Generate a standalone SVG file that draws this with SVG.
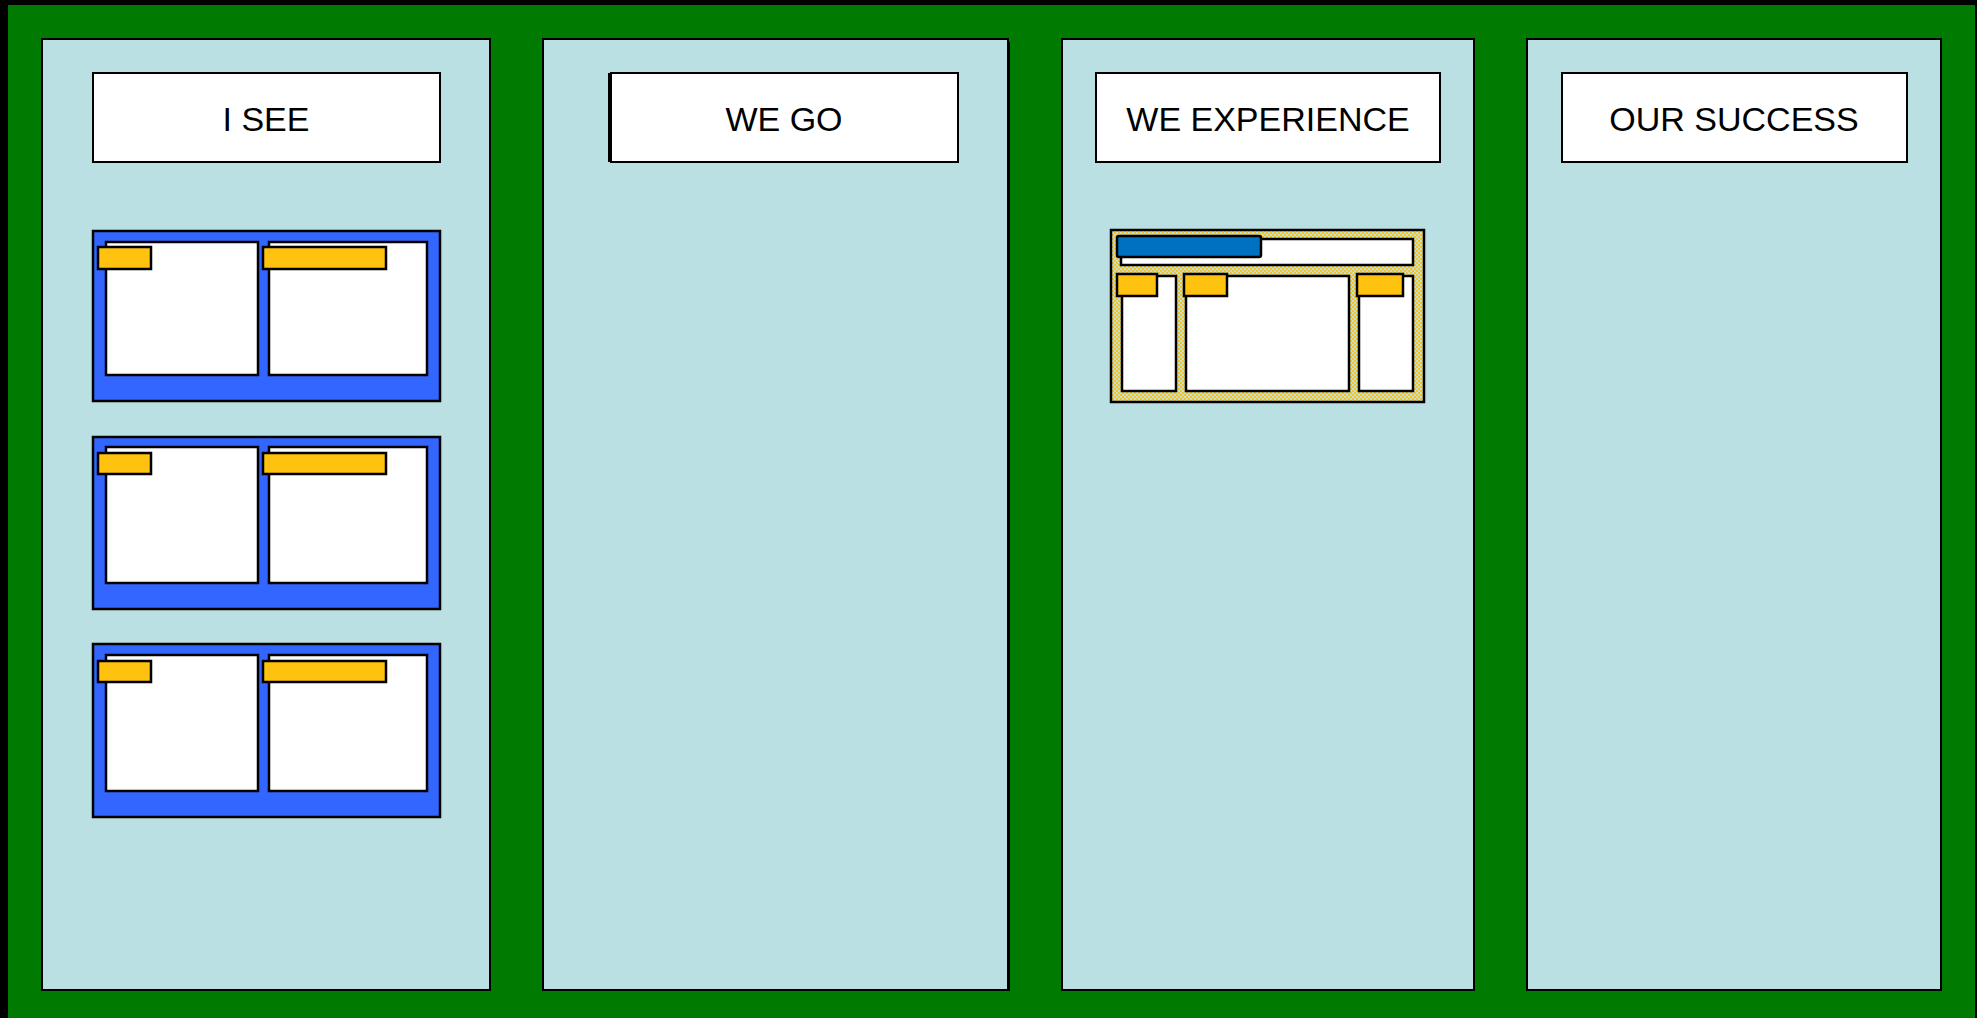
<svg xmlns="http://www.w3.org/2000/svg" width="1977" height="1018" viewBox="0 0 1977 1018">
<defs>
<style>
.panel{fill:#BBE0E3;stroke:#000;stroke-width:2}
.head{fill:#fff;stroke:#000;stroke-width:2}
.ht{font-family:"Liberation Sans",Arial,sans-serif;font-size:34px;fill:#000;text-anchor:middle}
.grp{fill:#3366FF;stroke:#000;stroke-width:2.5}
.card{fill:#fff;stroke:#000;stroke-width:2.5}
.tag{fill:#FFC20E;stroke:#000;stroke-width:2.5}
.btab{fill:#0070C0;stroke:#000;stroke-width:2.5}
</style>
<pattern id="chk" width="4" height="4" patternUnits="userSpaceOnUse">
<rect width="4" height="4" fill="#FFC20E"/>
<rect width="2" height="2" fill="#BBE0E3"/>
<rect x="2" y="2" width="2" height="2" fill="#BBE0E3"/>
</pattern>
</defs>
<rect x="0" y="0" width="1977" height="1018" fill="#000"/>
<rect x="8" y="5" width="1967" height="1013" fill="#007A00"/>

<g id="col1">
<rect class="panel" x="42" y="39" width="448" height="951"/>
<g id="col1-header"><rect class="head" x="93" y="73" width="347" height="89"/><text class="ht" x="266" y="131">I SEE</text></g>
<g id="see1">
<rect class="grp" x="93" y="231" width="347" height="170"/>
<rect class="card" x="106" y="242" width="152" height="133"/>
<rect class="card" x="269" y="242" width="158" height="133"/>
<rect class="tag" x="98" y="247" width="53" height="22"/>
<rect class="tag" x="263" y="247" width="123" height="22"/>
</g>
<g id="see2">
<rect class="grp" x="93" y="437" width="347" height="172"/>
<rect class="card" x="106" y="447" width="152" height="136"/>
<rect class="card" x="269" y="447" width="158" height="136"/>
<rect class="tag" x="98" y="453" width="53" height="21"/>
<rect class="tag" x="263" y="453" width="123" height="21"/>
</g>
<g id="see3">
<rect class="grp" x="93" y="644" width="347" height="173"/>
<rect class="card" x="106" y="655" width="152" height="136"/>
<rect class="card" x="269" y="655" width="158" height="136"/>
<rect class="tag" x="98" y="661" width="53" height="21"/>
<rect class="tag" x="263" y="661" width="123" height="21"/>
</g>
</g>

<g id="col2">
<rect x="546" y="42" width="464" height="949" fill="#000"/>
<rect class="panel" x="543" y="39" width="465" height="951"/>
<g id="col2-header"><rect x="608" y="73" width="10" height="89" fill="#000"/><rect class="head" x="611" y="73" width="347" height="89"/><text class="ht" x="784" y="131">WE GO</text></g>
</g>

<g id="col3">
<rect class="panel" x="1062" y="39" width="412" height="951"/>
<g id="col3-header"><rect class="head" x="1096" y="73" width="344" height="89"/><text class="ht" x="1268" y="131">WE EXPERIENCE</text></g>
<g id="experience">
<rect x="1111" y="230" width="313" height="172" fill="url(#chk)" stroke="#000" stroke-width="2.5"/>
<rect class="card" x="1121" y="239" width="292" height="26"/>
<rect class="btab" x="1117" y="236" width="144" height="21" rx="2"/>
<rect class="card" x="1122" y="276" width="54" height="115"/>
<rect class="card" x="1186" y="276" width="163" height="115"/>
<rect class="card" x="1359" y="276" width="54" height="115"/>
<rect class="tag" x="1117" y="274" width="40" height="22"/>
<rect class="tag" x="1184" y="274" width="43" height="22"/>
<rect class="tag" x="1357" y="274" width="46" height="22"/>
</g>
</g>

<g id="col4">
<rect class="panel" x="1527" y="39" width="414" height="951"/>
<g id="col4-header"><rect class="head" x="1562" y="73" width="345" height="89"/><text class="ht" x="1734" y="131">OUR SUCCESS</text></g>
</g>
</svg>
